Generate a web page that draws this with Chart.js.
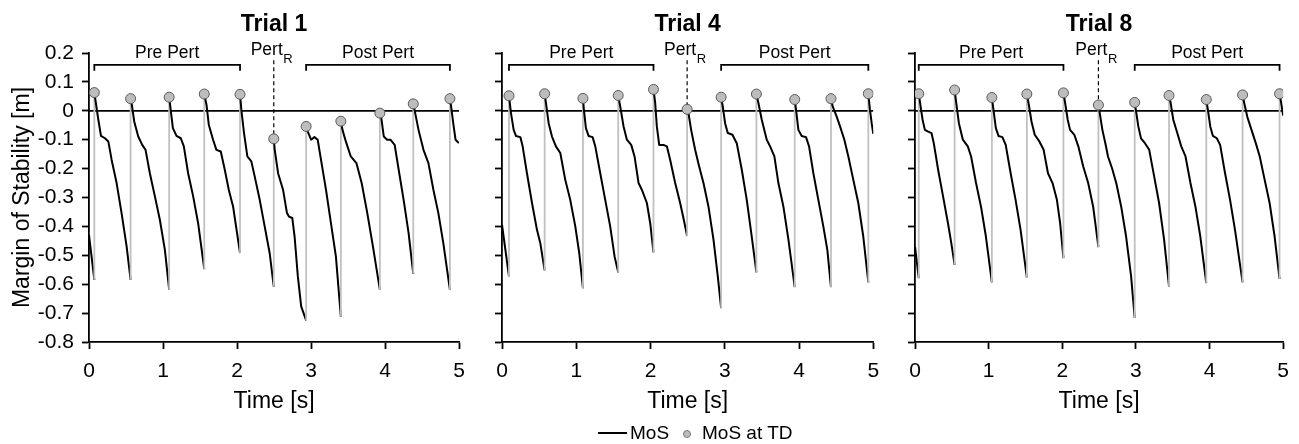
<!DOCTYPE html>
<html>
<head>
<meta charset="utf-8">
<script src="https://cdn.jsdelivr.net/npm/chart.js@4.4.1/dist/chart.umd.min.js"></script>
<style>
  body { margin: 0; background: #fff; width: 1299px; height: 444px; overflow: hidden; position: relative;
         font-family: "Liberation Sans", Arial, Helvetica, sans-serif; color: #000; }
  canvas { position: absolute; top: 0; }
  #legend span { position: absolute; }
  #legend .txt { font-size: 19px; line-height: 22px; top: 422px; }
  #legend .ln { left: 598px; top: 432px; width: 29px; height: 2px; background: #000; }
  #legend .dot { left: 683px; top: 430px; width: 6px; height: 6px; border-radius: 50%;
                 background: #bdbdbd; border: 1px solid #777; }
</style>
</head>
<body>
<canvas id="trial1" width="475" height="444" style="left:0px"></canvas>
<canvas id="trial4" width="420" height="444" style="left:475px"></canvas>
<canvas id="trial8" width="404" height="444" style="left:895px"></canvas>
<div id="legend">
  <span class="ln"></span><span class="txt" style="left:630px">MoS</span>
  <span class="dot"></span><span class="txt" style="left:702px">MoS at TD</span>
</div>
<script>
// tick labels
var xTicks = [0, 1, 2, 3, 4, 5];
var yTicks = [-0.8, -0.7, -0.6, -0.5, -0.4, -0.3, -0.2, -0.1, 0, 0.1, 0.2];

// Trial 1 : MoS trace, one stride per line (each stride ends at the next touchdown)
var trial1Time = [
  0, 0.072,
  0.072, 0.126, 0.162, 0.216, 0.261, 0.306, 0.373, 0.440, 0.508, 0.562,
  0.562, 0.575, 0.611, 0.665, 0.719, 0.764, 0.822, 0.890, 0.957, 1.025, 1.083,
  1.083, 1.106, 1.133, 1.182, 1.240, 1.281, 1.339, 1.407, 1.474, 1.557,
  1.557, 1.587, 1.618, 1.676, 1.721, 1.780, 1.834, 1.888, 1.946, 2.040,
  2.040, 2.058, 2.094, 2.139, 2.193, 2.238, 2.306, 2.373, 2.440, 2.496,
  2.496, 2.509, 2.554, 2.621, 2.674, 2.701, 2.746, 2.777, 2.821, 2.866, 2.933,
  2.933, 2.955, 3.000, 3.045, 3.089, 3.134, 3.201, 3.268, 3.335, 3.402,
  3.402, 3.424, 3.469, 3.536, 3.612, 3.683, 3.759, 3.835, 3.929,
  3.929, 3.946, 3.982, 4.027, 4.071, 4.129, 4.183, 4.250, 4.317, 4.380,
  4.380, 4.406, 4.451, 4.518, 4.585, 4.652, 4.719, 4.786, 4.875,
  4.875, 4.888, 4.920, 4.951, 4.996
];
var trial1MoS = [
  -0.430, -0.585,
  0.063, -0.031, -0.087, -0.095, -0.106, -0.170, -0.250, -0.354, -0.469, -0.585,
  0.042, 0.027, -0.037, -0.089, -0.118, -0.135, -0.216, -0.296, -0.377, -0.481, -0.619,
  0.047, -0.002, -0.060, -0.087, -0.095, -0.123, -0.216, -0.296, -0.389, -0.548,
  0.058, 0.021, -0.048, -0.100, -0.135, -0.141, -0.204, -0.273, -0.331, -0.492,
  0.057, 0.003, -0.077, -0.158, -0.175, -0.227, -0.308, -0.400, -0.492, -0.608,
  -0.097, -0.135, -0.216, -0.273, -0.354, -0.366, -0.371, -0.435, -0.573, -0.677, -0.725,
  -0.054, -0.072, -0.100, -0.091, -0.100, -0.170, -0.273, -0.389, -0.504, -0.712,
  -0.036, -0.066, -0.106, -0.158, -0.181, -0.250, -0.354, -0.469, -0.619,
  -0.008, -0.020, -0.089, -0.100, -0.100, -0.118, -0.204, -0.308, -0.423, -0.564,
  0.024, -0.008, -0.066, -0.135, -0.181, -0.273, -0.354, -0.458, -0.619,
  0.042, 0.021, -0.043, -0.100, -0.112
];
var trial1TdTime = [0.072, 0.562, 1.083, 1.557, 2.040, 2.496, 2.933, 3.402, 3.929, 4.380, 4.875];
var trial1TdMoS  = [0.063, 0.042, 0.047, 0.058, 0.057, -0.097, -0.054, -0.036, -0.008, 0.024, 0.042];

// Trial 4
var trial4Time = [
  0, 0.094,
  0.094, 0.121, 0.157, 0.188, 0.247, 0.278, 0.336, 0.404, 0.471, 0.516, 0.574,
  0.574, 0.592, 0.628, 0.673, 0.726, 0.785, 0.852, 0.919, 0.987, 1.040, 1.090,
  1.090, 1.103, 1.130, 1.166, 1.220, 1.256, 1.323, 1.390, 1.457, 1.516, 1.565,
  1.565, 1.592, 1.637, 1.682, 1.740, 1.785, 1.839, 1.883, 1.951, 1.996, 2.040,
  2.040, 2.063, 2.085, 2.117, 2.175, 2.220, 2.265, 2.332, 2.399, 2.448, 2.493,
  2.493, 2.511, 2.547, 2.601, 2.655, 2.713, 2.780, 2.848, 2.906, 2.951,
  2.951, 2.973, 3.004, 3.040, 3.103, 3.161, 3.229, 3.296, 3.363, 3.426,
  3.426, 3.453, 3.498, 3.565, 3.610, 3.668, 3.722, 3.789, 3.857, 3.942,
  3.942, 3.960, 3.991, 4.036, 4.094, 4.135, 4.193, 4.260, 4.327, 4.381, 4.430,
  4.430, 4.453, 4.507, 4.552, 4.610, 4.664, 4.731, 4.798, 4.865, 4.933,
  4.933, 4.955, 4.978, 5.000
];
var trial4MoS = [
  -0.394, -0.573,
  0.052, -0.008, -0.066, -0.087, -0.091, -0.123, -0.216, -0.319, -0.412, -0.458, -0.552,
  0.059, 0.027, -0.043, -0.089, -0.123, -0.146, -0.239, -0.308, -0.400, -0.492, -0.614,
  0.043, 0.003, -0.060, -0.087, -0.091, -0.123, -0.216, -0.308, -0.400, -0.504, -0.559,
  0.053, 0.015, -0.054, -0.100, -0.118, -0.158, -0.250, -0.273, -0.319, -0.389, -0.490,
  0.074, 0.027, -0.054, -0.118, -0.118, -0.123, -0.170, -0.250, -0.319, -0.377, -0.433,
  0.005, -0.008, -0.066, -0.135, -0.193, -0.250, -0.331, -0.446, -0.573, -0.683,
  0.047, 0.015, -0.043, -0.077, -0.083, -0.112, -0.204, -0.308, -0.435, -0.559,
  0.058, 0.027, -0.031, -0.100, -0.123, -0.158, -0.250, -0.331, -0.446, -0.610,
  0.039, 0.003, -0.066, -0.087, -0.091, -0.123, -0.216, -0.308, -0.400, -0.481, -0.610,
  0.042, 0.015, -0.020, -0.054, -0.100, -0.158, -0.239, -0.319, -0.435, -0.594,
  0.059, 0.003, -0.043, -0.080
];
var trial4TdTime = [0.094, 0.574, 1.090, 1.565, 2.040, 2.493, 2.951, 3.426, 3.942, 4.430, 4.933];
var trial4TdMoS  = [0.052, 0.059, 0.043, 0.053, 0.074, 0.005, 0.047, 0.058, 0.039, 0.042, 0.059];

// Trial 8
var trial8Time = [
  0, 0.051,
  0.051, 0.076, 0.103, 0.134, 0.179, 0.224, 0.255, 0.314, 0.381, 0.448, 0.493, 0.538,
  0.538, 0.560, 0.596, 0.650, 0.717, 0.762, 0.829, 0.896, 0.963, 1.044,
  1.044, 1.066, 1.098, 1.134, 1.187, 1.232, 1.299, 1.366, 1.434, 1.519,
  1.519, 1.546, 1.582, 1.626, 1.689, 1.747, 1.806, 1.868, 1.927, 1.971, 2.016,
  2.016, 2.039, 2.074, 2.106, 2.164, 2.218, 2.285, 2.352, 2.419, 2.491,
  2.491, 2.509, 2.545, 2.585, 2.621, 2.675, 2.733, 2.800, 2.867, 2.935, 2.984,
  2.984, 3.006, 3.033, 3.069, 3.123, 3.181, 3.248, 3.315, 3.383, 3.450,
  3.450, 3.472, 3.508, 3.562, 3.616, 3.674, 3.741, 3.808, 3.875, 3.956,
  3.956, 3.978, 4.010, 4.046, 4.099, 4.144, 4.211, 4.279, 4.346, 4.449,
  4.449, 4.471, 4.512, 4.570, 4.628, 4.682, 4.749, 4.816, 4.884, 4.951,
  4.951, 4.973, 5.000
];
var trial8MoS = [
  -0.470, -0.579,
  0.059, 0.015, -0.031, -0.066, -0.072, -0.077, -0.112, -0.204, -0.296, -0.389, -0.458, -0.533,
  0.072, 0.027, -0.043, -0.100, -0.123, -0.158, -0.250, -0.331, -0.435, -0.594,
  0.046, 0.003, -0.060, -0.087, -0.091, -0.118, -0.216, -0.308, -0.412, -0.576,
  0.058, 0.021, -0.037, -0.083, -0.106, -0.135, -0.216, -0.250, -0.308, -0.389, -0.510,
  0.062, 0.027, -0.031, -0.066, -0.083, -0.123, -0.193, -0.250, -0.331, -0.472,
  0.020, -0.008, -0.066, -0.112, -0.158, -0.198, -0.250, -0.331, -0.435, -0.573, -0.717,
  0.029, -0.008, -0.054, -0.095, -0.112, -0.135, -0.227, -0.319, -0.446, -0.608,
  0.053, 0.027, -0.031, -0.077, -0.123, -0.158, -0.250, -0.331, -0.435, -0.596,
  0.039, 0.003, -0.054, -0.087, -0.095, -0.118, -0.216, -0.308, -0.412, -0.594,
  0.055, 0.027, -0.020, -0.066, -0.112, -0.158, -0.239, -0.319, -0.435, -0.582,
  0.059, 0.027, -0.017
];
var trial8TdTime = [0.051, 0.538, 1.044, 1.519, 2.016, 2.491, 2.984, 3.450, 3.956, 4.449, 4.951];
var trial8TdMoS  = [0.059, 0.072, 0.046, 0.058, 0.062, 0.020, 0.029, 0.053, 0.039, 0.055, 0.059];

var FONT = '"Liberation Sans", Arial, Helvetica, sans-serif';
var BLACK = '#000000';
var GRAY = '#c0c0c0';
// bracket / marker line levels (in axis units)
var BRACKET_TOP = 0.159, BRACKET_FOOT = 0.139, DASH_TOP = 0.175;

function toPoints(xs, ys) {
  return xs.map(function (x, i) { return {x: x, y: ys[i]}; });
}

// Pre Pert / Post Pert / Pert_R labels above the brackets
var phasePlugin = {
  id: 'phases',
  afterDatasetsDraw: function (chart, args, opts) {
    var xs = chart.scales.x, ctx = chart.ctx, td = opts.td;
    var top = chart.chartArea.top;
    ctx.save();
    ctx.fillStyle = BLACK;
    ctx.textBaseline = 'middle';
    ctx.textAlign = 'center';
    ctx.font = '17.5px ' + FONT;
    ctx.fillText('Pre Pert', xs.getPixelForValue((td[0] + td[4]) / 2), top + 0.5);
    ctx.fillText('Post Pert', xs.getPixelForValue((td[6] + td[10]) / 2), top + 0.5);
    var px = xs.getPixelForValue(td[5]);
    ctx.textAlign = 'right';
    ctx.fillText('Pert', px + 9, top - 3);
    ctx.textAlign = 'left';
    ctx.font = '13px ' + FONT;
    ctx.fillText('R', px + 9.5, top + 6);
    ctx.restore();
  }
};

function makePanel(id, title, time, mos, tdTime, tdMoS, axisW, padR, showY) {
  var pre = [
    {x: tdTime[0], y: BRACKET_FOOT}, {x: tdTime[0], y: BRACKET_TOP},
    {x: tdTime[4], y: BRACKET_TOP}, {x: tdTime[4], y: BRACKET_FOOT}
  ];
  var post = [
    {x: tdTime[6], y: BRACKET_FOOT}, {x: tdTime[6], y: BRACKET_TOP},
    {x: tdTime[10], y: BRACKET_TOP}, {x: tdTime[10], y: BRACKET_FOOT}
  ];
  var pert = [{x: tdTime[5], y: DASH_TOP}, {x: tdTime[5], y: tdMoS[5]}];
  var bracketStyle = {borderColor: BLACK, borderWidth: 1.8, pointRadius: 0, fill: false, order: 3};

  return new Chart(document.getElementById(id), {
    type: 'line',
    data: {
      datasets: [
        {label: 'MoS at TD', data: toPoints(tdTime, tdMoS), showLine: false,
         pointRadius: 5, pointBackgroundColor: '#bdbdbd', pointBorderColor: '#5a5a5a',
         pointBorderWidth: 1, order: 0},
        {label: 'MoS', data: toPoints(time, mos), borderColor: BLACK, borderWidth: 2,
         pointRadius: 0, fill: false, borderJoinStyle: 'round', order: 1,
         segment: {
           borderColor: function (c) { return c.p0.parsed.x === c.p1.parsed.x ? GRAY : BLACK; },
           borderWidth: function (c) { return c.p0.parsed.x === c.p1.parsed.x ? 1.8 : 2; }
         }},
        {label: 'zero', data: [{x: xTicks[0], y: 0}, {x: xTicks[xTicks.length - 1], y: 0}],
         borderColor: BLACK, borderWidth: 1.8, pointRadius: 0, order: 2},
        Object.assign({label: 'pre', data: pre}, bracketStyle),
        Object.assign({label: 'post', data: post}, bracketStyle),
        {label: 'pert', data: pert, borderColor: BLACK, borderWidth: 1.2, borderDash: [4, 3],
         pointRadius: 0, order: 3}
      ]
    },
    options: {
      responsive: false,
      animation: false,
      events: [],
      layout: {padding: {left: 0, right: padR, top: 0, bottom: 29}},
      plugins: {
        legend: {display: false},
        tooltip: {enabled: false},
        title: {display: true, text: title, fullSize: false, color: BLACK,
                font: {family: FONT, size: 23, weight: 'bold'}, padding: {top: 11.2, bottom: 14.2}},
        phases: {td: tdTime}
      },
      scales: {
        x: {
          type: 'linear', min: xTicks[0], max: xTicks[xTicks.length - 1],
          afterBuildTicks: function (s) { s.ticks = xTicks.map(function (v) { return {value: v}; }); },
          afterFit: function (s) { s.height = 73; },
          ticks: {color: BLACK, font: {family: FONT, size: 21}, padding: 10, maxRotation: 0,
                  autoSkip: false, callback: function (v) { return String(v); }},
          grid: {drawOnChartArea: false, drawTicks: true, tickLength: 7, tickColor: BLACK, tickWidth: 1.8},
          border: {display: true, color: BLACK, width: 1.8},
          title: {display: true, text: 'Time [s]', color: BLACK,
                  font: {family: FONT, size: 23}, padding: {top: 0, bottom: 0}}
        },
        y: {
          min: yTicks[0], max: yTicks[yTicks.length - 1],
          afterBuildTicks: function (s) { s.ticks = yTicks.map(function (v) { return {value: v}; }); },
          afterFit: function (s) { s.width = axisW; },
          ticks: {display: showY, color: BLACK, font: {family: FONT, size: 21}, padding: 8,
                  callback: function (v) { return v === 0 ? '0' : v.toFixed(1); }},
          grid: {drawOnChartArea: false, drawTicks: true, tickLength: 7, tickColor: BLACK, tickWidth: 1.8},
          border: {display: true, color: BLACK, width: 1.8},
          title: {display: showY, text: 'Margin of Stability [m]', color: BLACK,
                  font: {family: FONT, size: 23}, padding: {top: 8.7, bottom: 0}}
        }
      }
    },
    plugins: [phasePlugin]
  });
}

makePanel('trial1', 'Trial 1', trial1Time, trial1MoS, trial1TdTime, trial1TdMoS, 89, 15, true);
makePanel('trial4', 'Trial 4', trial4Time, trial4MoS, trial4TdTime, trial4TdMoS, 27, 21.7, false);
makePanel('trial8', 'Trial 8', trial8Time, trial8MoS, trial8TdTime, trial8TdMoS, 20, 12.3, false);
</script>
</body>
</html>
